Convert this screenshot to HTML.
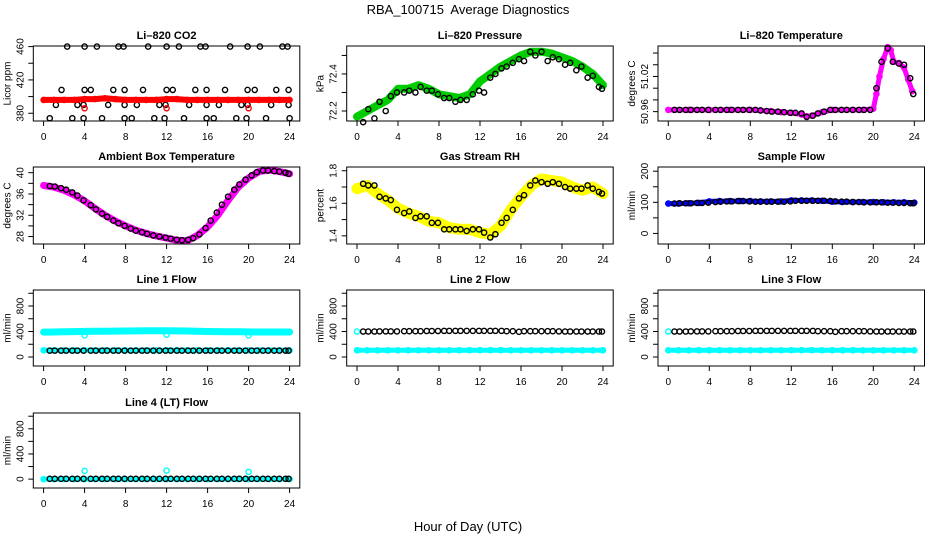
<!DOCTYPE html>
<html><head><meta charset="utf-8">
<style>
html,body{margin:0;padding:0;background:#fff;}
svg{display:block;font-family:"Liberation Sans",Arial,sans-serif;}
</style></head>
<body>
<svg id="chart" width="936" height="540" viewBox="0 0 936 540" xmlns="http://www.w3.org/2000/svg">
<text x="468" y="14" text-anchor="middle" font-size="13" style="white-space:pre">RBA_100715  Average Diagnostics</text>
<text x="468" y="531" text-anchor="middle" font-size="13">Hour of Day (UTC)</text>
</svg>
<script>
const xTicks = [0,4,8,12,16,20,24];
const hrs = [0,1,2,3,4,5,6,7,8,9,10,11,12,13,14,15,16,17,18,19,20,21,22,23,24];
const blackHours = [0.6,1.1,1.7,2.2,2.8,3.3,3.9,4.6,5.1,5.7,6.2,6.8,7.3,7.9,8.5,9.0,9.6,10.1,10.7,11.3,11.9,12.4,13.0,13.5,14.1,14.6,15.2,15.8,16.3,16.9,17.4,18.0,18.6,19.1,19.7,20.3,20.8,21.4,21.9,22.5,23.0,23.6,23.9];

// CO2
const co2Red = [396,396,396,396,397,397,398,397,396,396,396,396,397,397,396,396,396,396,396,396,396,396,396,396,396];
const co2RedCircHours = [4,12,20];
const co2RedCircVals = [386,386,386];
const co2BlackHours = [2.3,4.0,5.2,7.3,7.8,10.2,12.0,13.2,15.3,15.8,18.2,19.9,21.1,23.3,23.8, 1.75,4.0,4.6,6.8,7.9,9.7,12.0,12.6,14.8,15.9,17.7,19.9,20.6,22.7,23.9, 1.2,3.3,3.9,6.3,7.9,9.1,11.3,11.9,14.2,15.9,17.1,19.3,19.9,22.2,23.9, 0.6,2.8,3.9,5.7,7.9,8.6,10.8,11.8,13.7,15.9,16.6,18.8,19.8,21.7,24.0];
const co2BlackVals = [460,460,460,460,460,460,460,460,460,460,460,460,460,460,460, 408,408,408,408,408,408,408,408,408,408,408,408,408,408,408, 390,390,390,390,390,390,390,390,390,390,390,390,390,390,390, 374,374,374,374,374,374,374,374,374,374,374,374,374,374,374];

// Pressure
const presGreen = [72.17,72.2,72.23,72.26,72.32,72.32,72.34,72.32,72.29,72.28,72.27,72.29,72.36,72.4,72.44,72.47,72.5,72.52,72.52,72.51,72.49,72.47,72.44,72.4,72.34];
const presBlack = [72.14,72.21,72.16,72.25,72.2,72.28,72.3,72.3,72.31,72.3,72.33,72.31,72.31,72.29,72.27,72.27,72.25,72.26,72.26,72.29,72.31,72.3,72.38,72.4,72.43,72.44,72.46,72.48,72.47,72.52,72.5,72.52,72.47,72.49,72.48,72.45,72.46,72.42,72.44,72.38,72.39,72.33,72.32];

// Li-820 temperature
const ltMagHours = [0,2,4,6,8,9,10,11,12,13,13.5,14,15,16,18,19,20,20.3,20.6,21,21.4,21.7,22,22.5,23,23.4,23.8];
const ltMag = [50.963,50.963,50.963,50.963,50.963,50.962,50.961,50.959,50.958,50.955,50.952,50.953,50.959,50.963,50.963,50.963,50.965,50.99,51.02,51.05,51.07,51.065,51.045,51.043,51.035,51.015,50.995];
const ltBlack = [50.963,50.963,50.963,50.963,50.963,50.963,50.963,50.963,50.963,50.963,50.963,50.963,50.963,50.963,50.963,50.962,50.961,50.960,50.960,50.959,50.958,50.958,50.957,50.951,50.953,50.957,50.960,50.963,50.963,50.963,50.963,50.963,50.963,50.963,50.963,51.0,51.045,51.068,51.045,51.042,51.04,51.017,50.99];

// Ambient box temperature
const ambMag = [37.6,37.3,36.7,35.8,34.7,33.3,32.0,30.9,30.0,29.2,28.6,28.1,27.7,27.3,27.2,28.2,29.8,32.0,34.8,37.3,39.0,40.2,40.5,40.2,39.8];
const ambBlack = [37.5,37.4,37.1,36.8,36.3,35.7,34.8,33.9,33.1,32.3,31.7,31.0,30.5,30.0,29.5,29.1,28.8,28.5,28.2,28.0,27.8,27.6,27.4,27.3,27.4,27.7,28.4,29.6,31.0,32.5,34.0,35.5,36.8,37.8,38.7,39.5,40.1,40.4,40.4,40.3,40.2,40.0,39.8];

// Gas stream RH
const rhYellow = [1.69,1.71,1.66,1.62,1.57,1.54,1.52,1.49,1.48,1.45,1.44,1.44,1.42,1.41,1.46,1.56,1.64,1.71,1.75,1.74,1.73,1.70,1.68,1.70,1.66];
const rhBlack = [1.72,1.71,1.71,1.64,1.63,1.62,1.56,1.54,1.55,1.51,1.52,1.52,1.48,1.48,1.44,1.44,1.44,1.44,1.43,1.44,1.44,1.42,1.39,1.41,1.48,1.51,1.56,1.63,1.65,1.71,1.74,1.73,1.72,1.73,1.72,1.70,1.69,1.69,1.69,1.71,1.69,1.67,1.66];

// Sample flow
const sfBlue = [96,96,97,98,103,104,104,104,104,103,103,103,106,106,106,105,102,101,101,101,101,100,100,100,99];
const sfBlack = [96,97,97,97,98,98,99,101,102,103,103,104,104,103,102,102,102,102,102,102,103,105,105,105,105,105,105,104,103,102,102,101,101,100,100,100,100,99,99,98,98,97,97];

// Line flows
const l1CyanHigh = [390,392,395,398,402,405,405,406,408,410,412,412,412,410,408,405,400,398,396,395,394,393,393,392,392];
const cyanLow = [105,105,105,105,105,106,106,106,106,106,106,106,107,107,107,106,106,105,105,105,105,105,105,105,105];
const l1CyanCircHours = [4,12,20];
const l1CyanCircVals = [340,350,340];
const l1Black = [100,100,100,100,100,100,100,100,100,100,100,100,100,100,100,100,100,100,100,100,100,100,100,100,100,100,100,100,100,100,100,100,100,100,100,100,100,100,100,100,100,100,100];
const l2CyanStartHours = [0];
const l2CyanStartVals = [400];
const l2Black = [400,400,400,402,402,402,402,405,405,405,405,408,408,408,410,410,410,410,410,410,410,410,410,410,410,405,405,395,405,405,405,405,405,405,402,400,400,400,400,400,400,400,400];
const l3Black = [400,400,400,402,402,402,402,405,405,405,405,408,408,408,410,410,410,410,410,410,410,410,410,410,410,405,405,405,395,405,405,405,405,405,402,400,400,400,400,400,400,400,400];
const l4CyanFlat = [0,0,0,0,0,0,0,0,0,0,0,0,0,0,0,0,0,0,0,0,0,0,0,0,0];
const l4CyanCircHours = [4,12,20];
const l4CyanCircVals = [130,135,115];
const l4Black = [5,5,5,5,5,5,5,5,5,5,5,5,5,5,5,5,5,5,5,5,5,5,5,5,5,5,5,5,5,5,5,5,5,5,5,5,5,5,5,5,5,5,5];

const flowTicks = [0,200,400,600,800,1000];
const flowLabels = [0,400,800];

const svg = document.getElementById('chart');
const NS = 'http://www.w3.org/2000/svg';
const colLeft = [33.3, 346.7, 658];
const rowTop = [46, 167, 290, 413];
const rowBot = [121, 244, 366, 488];
const boxW = 266.5;

function mk(tag, attrs, parent) {
  const e = document.createElementNS(NS, tag);
  for (const k in attrs) e.setAttribute(k, attrs[k]);
  (parent || svg).appendChild(e);
  return e;
}

function panel(p) {
  const L = colLeft[p.col], T = rowTop[p.row], B = rowBot[p.row], R = L + boxW;
  const g = mk('g', {});
  
  
  const xs = h => L + 10.3 + h * (246 / 24);
  const ys = v => B - (v - p.yMin) / (p.yMax - p.yMin) * (B - T);
  const t = mk('text', {x: (L + R) / 2, y: T - 7, 'text-anchor': 'middle', 'font-size': 11, 'font-weight': 'bold'}, g);
  t.textContent = p.title;
  
  
  const plot = mk('g', {}, g);
  
  
  p.series.forEach(s => {
    const sg = mk('g', {}, plot);
    
    
    if (s.band) {
      const pts = s.x.map((h, i) => xs(h).toFixed(1) + ',' + ys(s.y[i]).toFixed(1)).join(' ');
      const pl = mk('polyline', {points: pts, fill: 'none', stroke: s.color, 'stroke-width': s.band, 'stroke-linejoin': 'round', 'stroke-linecap': 'round'}, sg);
      
      
    }
    s.x.forEach((h, i) => {
      const c = mk('circle', {cx: xs(h), cy: ys(s.y[i]), r: 2.6, fill: 'none', stroke: s.color, 'stroke-width': 1.4}, sg);
      
      
    });
  });
  const box = mk('rect', {x: L, y: T, width: boxW, height: B - T, fill: 'none', stroke: '#000', 'stroke-width': 1}, g);
  
  
  xTicks.forEach(h => {
    mk('line', {x1: xs(h), x2: xs(h), y1: B, y2: B + 5, stroke: '#000'}, g);
    const l = mk('text', {x: xs(h), y: B + 19, 'text-anchor': 'middle', 'font-size': 10}, g);
    l.textContent = h;
    
    
  });
  p.yTicks.forEach(v => {
    mk('line', {x1: L - 5, x2: L, y1: ys(v), y2: ys(v), stroke: '#000'}, g);
  });
  p.yLabels.forEach(v => {
    const y = ys(v);
    const l = mk('text', {x: L - 10, y: y, 'text-anchor': 'middle', 'font-size': 10, transform: 'rotate(-90 ' + (L - 10) + ' ' + y + ')'}, g);
    l.textContent = v.toFixed(p.dec || 0);
    
    
  });
  const ym = (T + B) / 2, yx = L - 23;
  const yt = mk('text', {x: yx, y: ym, 'text-anchor': 'middle', 'font-size': 10, transform: 'rotate(-90 ' + yx + ' ' + ym + ')'}, g);
  yt.textContent = p.ylab;
  
  
}

panel({name: 'co2', col: 0, row: 0, title: 'Li\u2013820 CO2', ylab: 'Licor ppm', yMin: 370.7, yMax: 460.7,
  yTicks: [380,400,420,440,460], yLabels: [380,420,460],
  series: [
    {name: 'co2-hourly-avg', x: co2BlackHours, y: co2BlackVals, color: '#000'},
    {name: 'co2-raw', x: hrs, y: co2Red, color: '#f00', band: 6},
    {name: 'co2-outliers', x: co2RedCircHours, y: co2RedCircVals, color: '#f00'}]});
panel({name: 'pressure', col: 1, row: 0, title: 'Li\u2013820 Pressure', ylab: 'kPa', yMin: 72.146, yMax: 72.551, dec: 1,
  yTicks: [72.2,72.3,72.4,72.5], yLabels: [72.2,72.4],
  series: [
    {name: 'pressure-raw', x: hrs, y: presGreen, color: '#0c0', band: 8},
    {name: 'pressure-hourly-avg', x: blackHours, y: presBlack, color: '#000'}]});
panel({name: 'li820-temp', col: 2, row: 0, title: 'Li\u2013820 Temperature', ylab: 'degrees C', yMin: 50.944, yMax: 51.072, dec: 2,
  yTicks: [50.96,50.98,51.0,51.02,51.04,51.06], yLabels: [50.96,51.02],
  series: [
    {name: 'li820-temp-raw', x: ltMagHours, y: ltMag, color: '#f0f', band: 5},
    {name: 'li820-temp-hourly-avg', x: blackHours, y: ltBlack, color: '#000'}]});
panel({name: 'ambient-temp', col: 0, row: 1, title: 'Ambient Box Temperature', ylab: 'degrees C', yMin: 26.6, yMax: 41.07,
  yTicks: [28,30,32,34,36,38,40], yLabels: [28,32,36,40],
  series: [
    {name: 'ambient-temp-raw', x: hrs, y: ambMag, color: '#f0f', band: 7},
    {name: 'ambient-temp-hourly-avg', x: blackHours, y: ambBlack, color: '#000'}]});
panel({name: 'gas-rh', col: 1, row: 1, title: 'Gas Stream RH', ylab: 'percent', yMin: 1.35, yMax: 1.823, dec: 1,
  yTicks: [1.4,1.5,1.6,1.7,1.8], yLabels: [1.4,1.6,1.8],
  series: [
    {name: 'gas-rh-raw', x: hrs, y: rhYellow, color: '#ff0', band: 11},
    {name: 'gas-rh-hourly-avg', x: blackHours, y: rhBlack, color: '#000'}]});
panel({name: 'sample-flow', col: 2, row: 1, title: 'Sample Flow', ylab: 'ml/min', yMin: -34, yMax: 213.5,
  yTicks: [0,50,100,150,200], yLabels: [0,100,200],
  series: [
    {name: 'sample-flow-raw', x: hrs, y: sfBlue, color: '#00f', band: 5},
    {name: 'sample-flow-hourly-avg', x: blackHours, y: sfBlack, color: '#000'}]});
panel({name: 'line1-flow', col: 0, row: 2, title: 'Line 1 Flow', ylab: 'ml/min', yMin: -141, yMax: 1051,
  yTicks: flowTicks, yLabels: flowLabels,
  series: [
    {name: 'line1-flow-high', x: hrs, y: l1CyanHigh, color: '#0ff', band: 7},
    {name: 'line1-flow-low', x: hrs, y: cyanLow, color: '#0ff', band: 5},
    {name: 'line1-flow-dips', x: l1CyanCircHours, y: l1CyanCircVals, color: '#0ff'},
    {name: 'line1-flow-hourly-avg', x: blackHours, y: l1Black, color: '#000'}]});
panel({name: 'line2-flow', col: 1, row: 2, title: 'Line 2 Flow', ylab: 'ml/min', yMin: -141, yMax: 1051,
  yTicks: flowTicks, yLabels: flowLabels,
  series: [
    {name: 'line2-flow-low', x: hrs, y: cyanLow, color: '#0ff', band: 5},
    {name: 'line2-flow-start', x: l2CyanStartHours, y: l2CyanStartVals, color: '#0ff'},
    {name: 'line2-flow-hourly-avg', x: blackHours, y: l2Black, color: '#000'}]});
panel({name: 'line3-flow', col: 2, row: 2, title: 'Line 3 Flow', ylab: 'ml/min', yMin: -141, yMax: 1051,
  yTicks: flowTicks, yLabels: flowLabels,
  series: [
    {name: 'line3-flow-low', x: hrs, y: cyanLow, color: '#0ff', band: 5},
    {name: 'line3-flow-start', x: l2CyanStartHours, y: l2CyanStartVals, color: '#0ff'},
    {name: 'line3-flow-hourly-avg', x: blackHours, y: l3Black, color: '#000'}]});
panel({name: 'line4-flow', col: 0, row: 3, title: 'Line 4 (LT) Flow', ylab: 'ml/min', yMin: -141, yMax: 1051,
  yTicks: flowTicks, yLabels: flowLabels,
  series: [
    {name: 'line4-flow-raw', x: hrs, y: l4CyanFlat, color: '#0ff', band: 5},
    {name: 'line4-flow-spikes', x: l4CyanCircHours, y: l4CyanCircVals, color: '#0ff'},
    {name: 'line4-flow-hourly-avg', x: blackHours, y: l4Black, color: '#000'}]});
</script>
</body></html>
